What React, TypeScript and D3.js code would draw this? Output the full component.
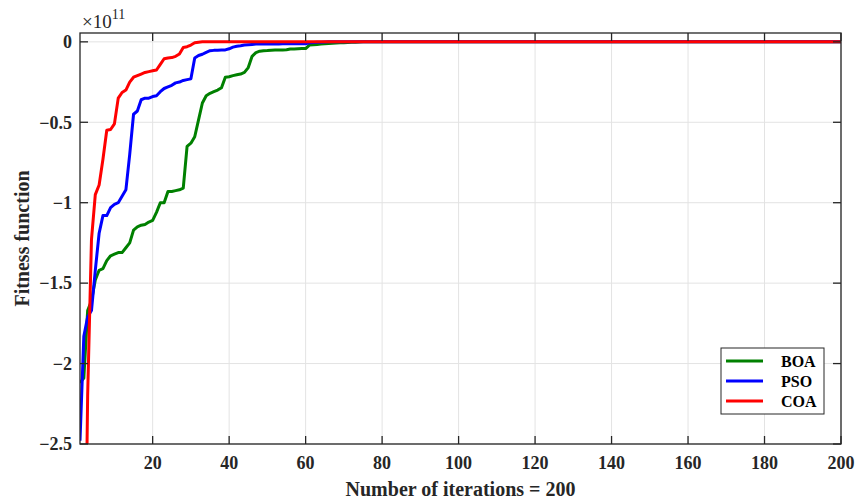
import React from "react";
import * as d3 from "d3";

// fitness per iteration (x 1e11), iterations 1..N, flat afterwards until maxIter
const boa = [
  -2.12, -2.09, -1.67, -1.61, -1.48, -1.42, -1.41, -1.36, -1.33, -1.32,
  -1.31, -1.31, -1.28, -1.25, -1.17, -1.15, -1.14, -1.135, -1.12, -1.11,
  -1.06, -1.0, -1.0, -0.93, -0.93, -0.925, -0.92, -0.91, -0.65, -0.63,
  -0.59, -0.485, -0.38, -0.335, -0.32, -0.31, -0.3, -0.285, -0.22, -0.217,
  -0.21, -0.205, -0.2, -0.19, -0.16, -0.09, -0.067, -0.058, -0.055, -0.054,
  -0.052, -0.051, -0.05, -0.05, -0.049, -0.045, -0.044, -0.043, -0.042, -0.042,
  -0.02, -0.018, -0.016, -0.014, -0.012, -0.01, -0.008, -0.007, -0.006, -0.005,
  -0.004, -0.003, -0.002, -0.001, 0,
];
const pso = [
  -2.48, -1.83, -1.71, -1.67, -1.42, -1.19, -1.08, -1.08, -1.03, -1.01,
  -1.0, -0.96, -0.92, -0.7, -0.45, -0.43, -0.36, -0.35, -0.35, -0.34,
  -0.335, -0.31, -0.29, -0.28, -0.27, -0.255, -0.25, -0.24, -0.235, -0.23,
  -0.1, -0.085, -0.077, -0.065, -0.055, -0.053, -0.052, -0.051, -0.05, -0.043,
  -0.033, -0.027, -0.024, -0.02, -0.018, -0.016, -0.014, -0.013, -0.013, -0.013,
  -0.013, -0.013, -0.013, -0.012, -0.012, -0.012, -0.012, -0.012, -0.012, -0.012,
  -0.006, -0.004, -0.003, -0.002, -0.001, 0,
];
const coa = [
  -6.0, -4.1, -2.2, -1.23, -0.95, -0.89, -0.73, -0.55, -0.545, -0.51,
  -0.35, -0.315, -0.3, -0.25, -0.22, -0.21, -0.2, -0.19, -0.185, -0.18,
  -0.175, -0.14, -0.105, -0.1, -0.098, -0.09, -0.075, -0.035, -0.03, -0.02,
  -0.006, -0.002, 0,
];
const maxIter = 200;

const seriesNames = ["BOA", "PSO", "COA"];
const seriesColors = ["#008000", "#0000ff", "#ff0000"];
const xTicks = [20, 40, 60, 80, 100, 120, 140, 160, 180, 200];
const yTicks = [0, -0.5, -1, -1.5, -2, -2.5];

const W = 857;
const H = 503;
const m = { left: 80, right: 16, top: 33, bottom: 59 };
const axisColor = "#262626";
const font = "Liberation Serif, Times New Roman, serif";

const fmt = (v: number) => (v === 0 ? "0" : String(v).replace("-", "\u2212"));

export default function App() {
  const x = d3.scaleLinear().domain([1, maxIter]).range([m.left, W - m.right]);
  const y = d3.scaleLinear().domain([-2.5, 0.055]).range([H - m.bottom, m.top]);
  const x0 = m.left;
  const x1 = W - m.right;
  const y0 = m.top;
  const y1 = H - m.bottom;

  const toPoints = (vals: number[]) => {
    const pts = vals.map((v, i) => [i + 1, v] as [number, number]);
    pts.push([maxIter, vals[vals.length - 1]]);
    return pts;
  };
  const line = d3
    .line<[number, number]>()
    .x((d) => x(d[0]))
    .y((d) => y(d[1]));
  const allSeries = [boa, pso, coa];
  const tickLen = 8;

  return (
    <svg
      width={W}
      height={H}
      style={{ position: "absolute", left: 0, top: 0, background: "#fff" }}
    >
      <defs>
        <clipPath id="plot">
          <rect x={x0} y={y0} width={x1 - x0} height={y1 - y0} />
        </clipPath>
      </defs>
      {/* grid */}
      {xTicks.map((t) => (
        <line key={"gx" + t} x1={x(t)} x2={x(t)} y1={y0} y2={y1} stroke="#e3e3e3" strokeWidth={1} />
      ))}
      {yTicks.map((t) => (
        <line key={"gy" + t} x1={x0} x2={x1} y1={y(t)} y2={y(t)} stroke="#e3e3e3" strokeWidth={1} />
      ))}
      {/* series */}
      <g clipPath="url(#plot)">
        {allSeries.map((s, i) => (
          <path
            key={seriesNames[i]}
            d={line(toPoints(s)) || ""}
            fill="none"
            stroke={seriesColors[i]}
            strokeWidth={3}
            strokeLinejoin="round"
          />
        ))}
      </g>
      {/* axes box and ticks */}
      <rect x={x0} y={y0} width={x1 - x0} height={y1 - y0} fill="none" stroke={axisColor} strokeWidth={1.3} />
      {xTicks.map((t) => (
        <g key={"tx" + t} stroke={axisColor} strokeWidth={1.3}>
          <line x1={x(t)} x2={x(t)} y1={y1} y2={y1 - tickLen} />
          <line x1={x(t)} x2={x(t)} y1={y0} y2={y0 + tickLen} />
        </g>
      ))}
      {yTicks.map((t) => (
        <g key={"ty" + t} stroke={axisColor} strokeWidth={1.3}>
          <line x1={x0} x2={x0 + tickLen} y1={y(t)} y2={y(t)} />
          <line x1={x1} x2={x1 - tickLen} y1={y(t)} y2={y(t)} />
        </g>
      ))}
      {/* tick labels */}
      {xTicks.map((t) => (
        <text
          key={"lx" + t}
          x={x(t)}
          y={y1 + 25}
          textAnchor="middle"
          fontFamily={font}
          fontSize={18}
          fontWeight="bold"
          fill={axisColor}
        >
          {fmt(t)}
        </text>
      ))}
      {yTicks.map((t) => (
        <text
          key={"ly" + t}
          x={x0 - 8}
          y={y(t)}
          dy="0.35em"
          textAnchor="end"
          fontFamily={font}
          fontSize={18}
          fontWeight="bold"
          fill={axisColor}
        >
          {fmt(t)}
        </text>
      ))}
      {/* exponent */}
      <text x={82} y={28} fontFamily={font} fontSize={19} fill={axisColor}>
        ×10
        <tspan dy={-9} fontSize={14}>11</tspan>
      </text>
      {/* axis titles */}
      <text
        x={(x0 + x1) / 2}
        y={496}
        textAnchor="middle"
        fontFamily={font}
        fontSize={20}
        fontWeight="bold"
        fill={axisColor}
      >
        Number of iterations = 200
      </text>
      <text
        transform={`translate(29, ${(y0 + y1) / 2}) rotate(-90)`}
        textAnchor="middle"
        fontFamily={font}
        fontSize={20}
        fontWeight="bold"
        fill={axisColor}
      >
        Fitness function
      </text>
      {/* legend */}
      <g transform="translate(721, 348)">
        <rect x={0} y={0} width={103} height={66} fill="#fff" stroke={axisColor} strokeWidth={1} />
        {seriesNames.map((n, i) => (
          <g key={"lg" + n} transform={`translate(0, ${13 + i * 20})`}>
            <line x1={5} x2={42} y1={0} y2={0} stroke={seriesColors[i]} strokeWidth={3} />
            <text x={60} y={0} dy="0.35em" fontFamily={font} fontSize={16} fontWeight="bold" fill="#000">
              {n}
            </text>
          </g>
        ))}
      </g>
    </svg>
  );
}
